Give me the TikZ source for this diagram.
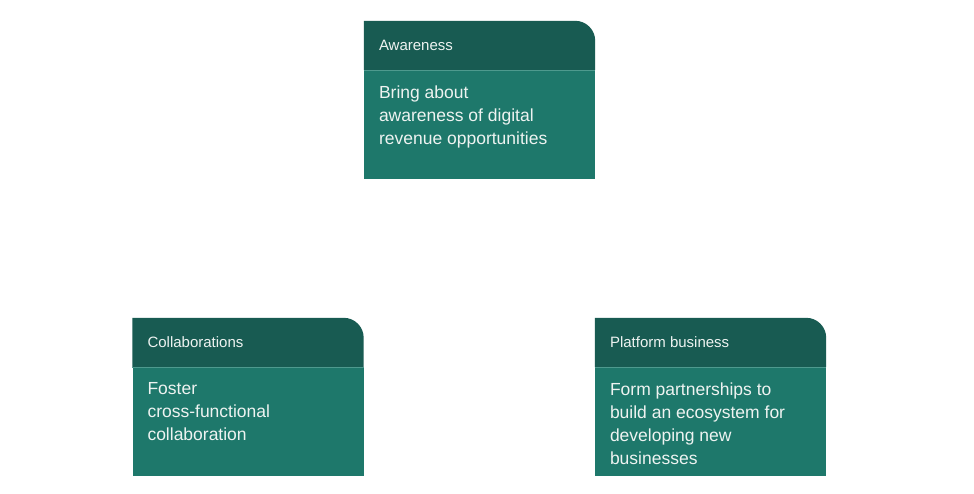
\documentclass[tikz,border=0pt]{standalone}
\usepackage{fontspec}
\setmainfont{Liberation Sans}
\usepackage{tikz}
\usetikzlibrary{positioning}

\definecolor{headcol}{HTML}{185B52}
\definecolor{bodycol}{HTML}{1E786B}
\definecolor{sepcol}{HTML}{4E9A8E}
\definecolor{txtcol}{HTML}{EEF3F1}

\tikzset{
    head/.style={minimum width=231pt, minimum height=49pt, inner sep=0pt},
    body/.style={minimum width=231pt, minimum height=109pt, inner sep=0pt, fill=bodycol},
    headtext/.style={anchor=west, inner sep=0pt, text=txtcol, font=\fontsize{15}{18}\selectfont},
    bodytext/.style={anchor=north west, inner sep=0pt, align=left, text=txtcol,
        font=\fontsize{17.5}{23}\selectfont},
}

\newcommand{\headbox}[1]{%
    \fill[headcol] (#1.south west) -- (#1.north west) -- ([xshift=-20pt]#1.north east)
        arc[start angle=90, end angle=0, radius=20pt] -- (#1.south east) -- cycle;}

\begin{document}
\begin{tikzpicture}[x=1pt, y=-1pt]

\useasboundingbox (0,0) rectangle (974,493);

% header boxes
\node [head] (aware_head) at (479.5,45.5) {};
\node [head] (collab_head) at (248,342.5) {};
\node [head] (platform_head) at (710.5,342.5) {};

\headbox{aware_head}
\headbox{collab_head}
\headbox{platform_head}

% body boxes
\node [body, below=0pt of aware_head] (aware_body) {};
\node [body, below=0pt of collab_head] (collab_body) {};
\node [body, below=0pt of platform_head] (platform_body) {};

\foreach \n in {aware, collab, platform}
    \draw [sepcol, line width=1pt] (\n_body.north west) -- (\n_body.north east);

% texts
\node [headtext, right=15pt of aware_head.west] (aware_title) {Awareness};
\node [headtext, right=15pt of collab_head.west] (collab_title) {Collaborations};
\node [headtext, right=15pt of platform_head.west] (platform_title) {Platform business};

\node [bodytext] (aware_text) at ([xshift=15pt, yshift=-15pt]aware_body.north west)
    {Bring about\\awareness of digital\\revenue opportunities};
\node [bodytext] (collab_text) at ([xshift=15pt, yshift=-15pt]collab_body.north west)
    {Foster\\cross-functional\\collaboration};
\node [bodytext] (platform_text) at ([xshift=15pt, yshift=-15pt]platform_body.north west)
    {Form partnerships to\\build an ecosystem for\\developing new\\businesses};

\end{tikzpicture}
\end{document}
